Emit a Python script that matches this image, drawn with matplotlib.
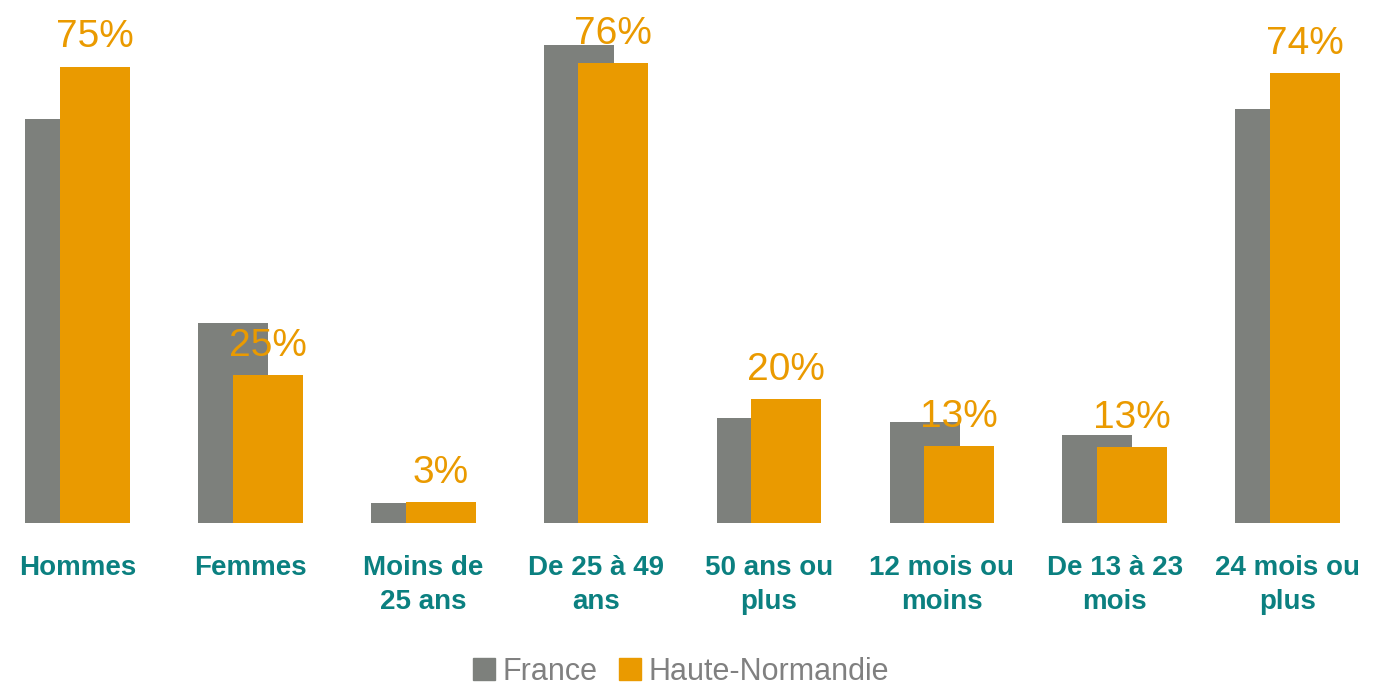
import numpy as np
import matplotlib
matplotlib.use("Agg")
import matplotlib.pyplot as plt
from matplotlib.patches import Patch

categories = ["Hommes", "Femmes", "Moins de\n25 ans", "De 25 à 49\nans",
              "50 ans ou\nplus", "12 mois ou\nmoins", "De 13 à 23\nmois",
              "24 mois ou\nplus"]
france = [66.6, 33.0, 3.3, 78.7, 17.3, 16.6, 14.5, 68.2]
haute_normandie = [75.2, 24.4, 3.5, 75.8, 20.4, 12.7, 12.5, 74.1]
hn_labels = ["75%", "25%", "3%", "76%", "20%", "13%", "13%", "74%"]

grey = "#7d807c"
orange = "#ea9a00"
teal = "#0b8080"

plt.rcParams["font.family"] = ["Liberation Sans", "DejaVu Sans"]

fig = plt.figure(figsize=(13.73, 6.86), dpi=100)
ax = fig.add_axes([0, 163 / 686, 1, 523 / 686])

step = 172.86  # px per category
x = np.arange(len(categories))
w = 0.405
ax.bar(x - 0.1, france, width=w, color=grey, zorder=2)
ax.bar(x + 0.1, haute_normandie, width=w, color=orange, zorder=3)

for xi, v, lab in zip(x, haute_normandie, hn_labels):
    ax.annotate(lab, (xi + 0.1, v), xytext=(0, 8), textcoords="offset points",
                ha="center", va="bottom", fontsize=28, color=orange)

ax.set_xlim(-77.5 / step, -77.5 / step + 1373 / step)
ax.set_ylim(0, 523 / 6.07)
ax.set_xticks(x)
ax.set_xticklabels(categories, fontsize=20, fontweight="bold", color=teal,
                   linespacing=1.4)
ax.tick_params(axis="x", length=0, pad=23)
ax.set_yticks([])
for s in ax.spines.values():
    s.set_visible(False)

handles = [Patch(color=grey, label="France"),
           Patch(color=orange, label="Haute-Normandie")]
leg = fig.legend(handles=handles, loc="center", bbox_to_anchor=(0.496, 1 - 672 / 686),
                 ncol=2, frameon=False, fontsize=22, handlelength=0.72,
                 handleheight=0.72, handletextpad=0.25, columnspacing=0.7)
for t in leg.get_texts():
    t.set_color("#808080")

fig.savefig("out.png", dpi=100)
